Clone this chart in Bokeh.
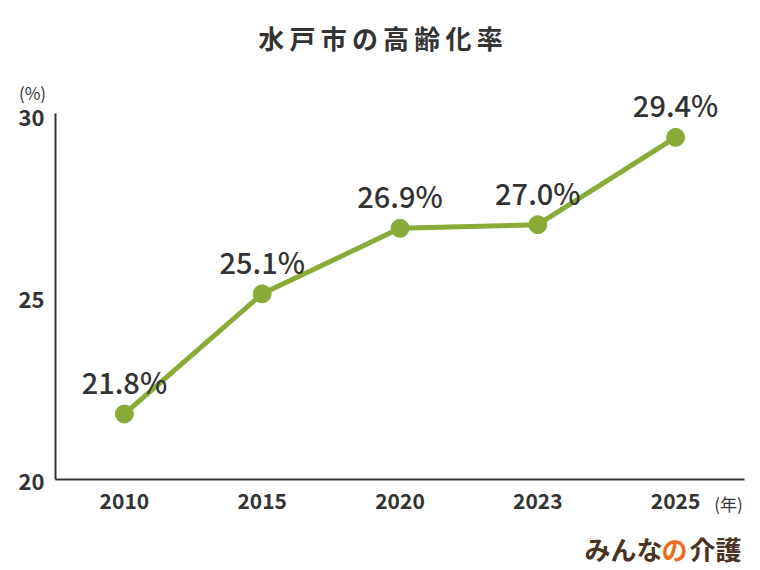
from bokeh.plotting import figure
from bokeh.models import ColumnDataSource, Range1d
from bokeh.core.properties import value
from bokeh.embed import file_html
from bokeh.resources import INLINE

years = ["2010", "2015", "2020", "2023", "2025"]
rates = [21.8, 25.1, 26.9, 27.0, 29.4]
rate_labels = ["21.8%", "25.1%", "26.9%", "27.0%", "29.4%"]
y_ticks = [20, 25, 30]
y_tick_labels = ["20", "25", "30"]
title_text = "水戸市の高齢化率"
y_unit = "(%)"
x_unit = "(年)"
brand = ["みんな", "の", "介護"]

FONT = "Noto Sans CJK JP"
FONT_MED = '"Noto Sans CJK JP Medium", "Noto Sans CJK JP"'
GREEN = "#8aab37"
DARK = "#333333"
BROWN = "#4b3222"
ORANGE = "#ea6f1c"

W, H = 760, 570
AX_L, AX_R, AX_B = 55, 744, 479
PX_X = (AX_R - AX_L) / len(years)
PX_Y = 36.4
Y0 = 20
x0 = -0.5

xr = Range1d(x0 - AX_L / PX_X, x0 + (W - AX_L) / PX_X)
yr = Range1d(Y0 - (H - AX_B) / PX_Y, Y0 + AX_B / PX_Y)

def X(px):
    return x0 + (px - AX_L) / PX_X

def Y(py):
    return Y0 + (AX_B - py) / PX_Y

p = figure(width=W, height=H, output_backend="svg", toolbar_location=None,
           x_range=xr, y_range=yr, min_border=0)
p.axis.visible = False
p.grid.visible = False
p.outline_line_color = None
p.background_fill_color = "white"
p.border_fill_color = "white"

xs = list(range(len(years)))
src = ColumnDataSource(dict(x=xs, y=rates, t=rate_labels))

# axis lines
y_top = max(y_ticks) + 2 / PX_Y
p.segment(x0=[x0, x0], y0=[Y0, Y0], x1=[x0, x0 + len(years)], y1=[y_top, Y0],
          line_color=DARK, line_width=2)

# tick labels
p.text(x=[x0] * len(y_ticks), y=y_ticks, text=y_tick_labels, x_offset=-11, y_offset=2,
       text_align="right", text_baseline="middle", text_font=value(FONT),
       text_font_size="22px", text_font_style="bold", text_color=DARK)
p.text(x=xs, y=[Y0] * len(xs), text=years, y_offset=21,
       text_align="center", text_baseline="middle", text_font=value(FONT),
       text_font_size="21px", text_font_style="bold", text_color=DARK)

# series
p.line("x", "y", source=src, line_color=GREEN, line_width=5)
p.scatter("x", "y", source=src, size=18, fill_color=GREEN, line_color=GREEN)
p.text("x", "y", text="t", source=src, y_offset=-33,
       text_align="center", text_baseline="middle", text_font=value(FONT_MED),
       text_font_size="29px", text_font_style="normal", text_color=DARK)

# title (thin spaces mimic the letter spacing)
p.text(x=[X(380)], y=[Y(37)], text=["\u2009".join(title_text)], text_align="center",
       text_baseline="middle", text_font=value(FONT), text_font_size="26px",
       text_font_style="bold", text_color=DARK)
p.text(x=[X(32)], y=[Y(92)], text=[y_unit], text_align="center",
       text_baseline="middle", text_font=value(FONT), text_font_size="17px",
       text_color=DARK)
p.text(x=[X(728)], y=[Y(503)], text=[x_unit], text_align="center",
       text_baseline="middle", text_font=value(FONT), text_font_size="17px",
       text_color=DARK)

# brand watermark
wy = Y(548)
p.text(x=[X(584)], y=[wy], text=[brand[0]], text_align="left", text_baseline="middle",
       text_font=value(FONT), text_font_size="26px", text_font_style="bold", text_color=BROWN)
p.text(x=[X(661)], y=[wy], text=[brand[1]], text_align="left", text_baseline="middle",
       text_font=value(FONT), text_font_size="26px", text_font_style="bold", text_color=ORANGE)
p.text(x=[X(689)], y=[wy], text=[brand[2]], text_align="left", text_baseline="middle",
       text_font=value(FONT), text_font_size="26px", text_font_style="bold", text_color=BROWN)

open("out.html", "w").write(file_html(p, INLINE))
